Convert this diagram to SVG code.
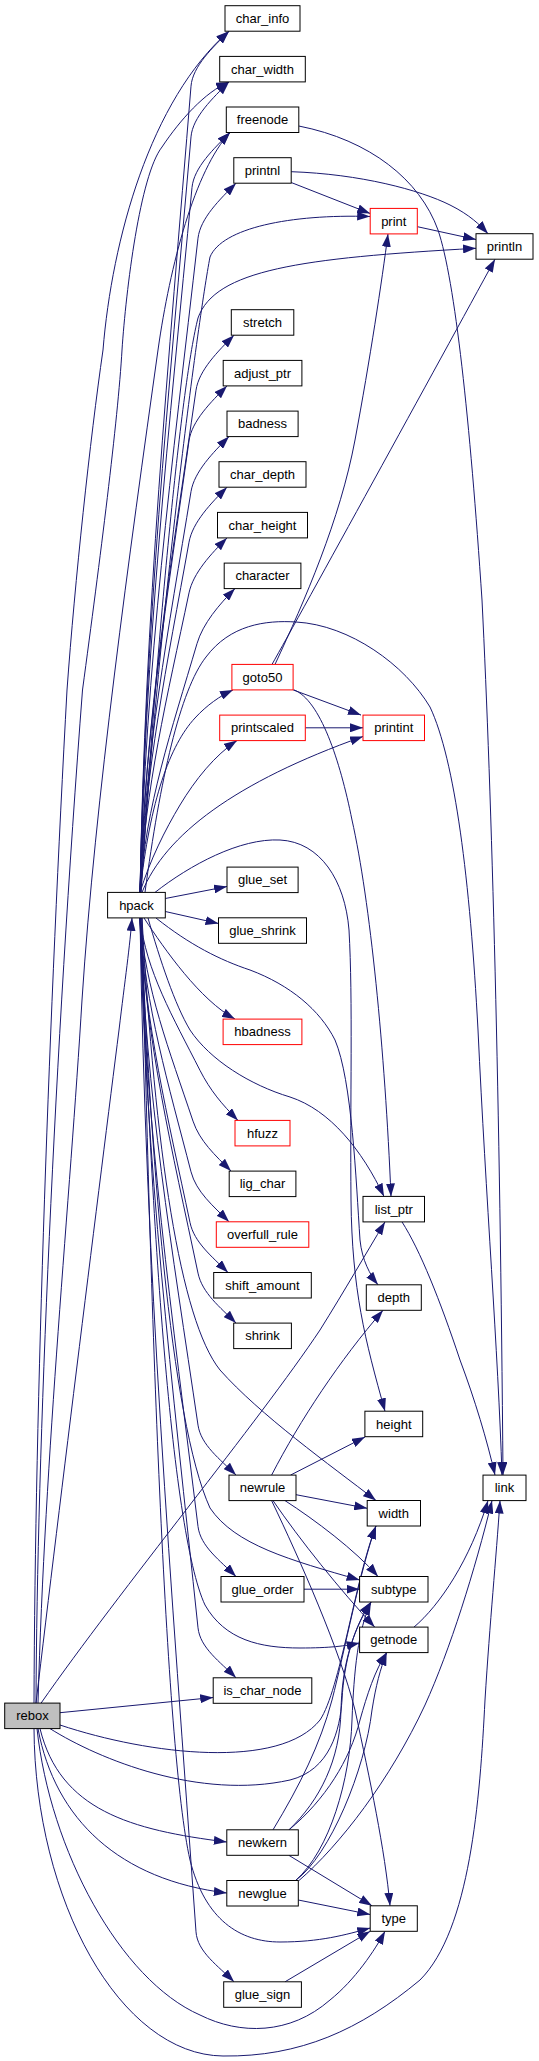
<svg xmlns="http://www.w3.org/2000/svg" width="539" height="2061" viewBox="0 0 539 2061">
<style>
.n rect{fill:#fff;stroke:#000;stroke-width:1}
.n.r rect{stroke:#f00}
.n.g rect{fill:#bfbfbf}
.n text{font-family:"Liberation Sans",Arial,sans-serif;font-size:13px;text-anchor:middle;fill:#000}
.e path{fill:none;stroke:#191970;stroke-width:1;marker-end:url(#a)}
</style>
<defs>
<marker id="a" markerWidth="13" markerHeight="9" refX="13" refY="4.5" orient="auto" markerUnits="userSpaceOnUse"><path d="M0,0 L13,4.5 L0,9 z" fill="#191970"/></marker>
</defs>
<rect width="539" height="2061" fill="#fff"/>
<g id="edges" class="e">
<path d="M140,892.4 C145.1,610.2 168.1,368.4 191,86.2 C192.6,66.2 213,47.2 229,31.2"/>
<path d="M140,892.4 C145.1,628 168.1,401.3 191,136.9 C192.7,116.9 213,97.9 229,81.9"/>
<path d="M140,892.4 C145.2,645.7 168.6,434.2 192,187.5 C193.9,167.5 214,148.5 230,132.5"/>
<path d="M140,892.4 C145.8,663.4 171.9,467.2 198,238.2 C200.3,218.2 220,199.2 236,183.2"/>
<path d="M140,892.4 C145.6,716.6 170.8,566 196,390.2 C198.9,370.2 218,351.2 234,335.2"/>
<path d="M140,892.4 C144.9,734.4 167,598.9 189,440.9 C191.8,420.9 211,401.9 227,385.9"/>
<path d="M140,892.4 C145.1,752.1 168.1,631.9 191,491.6 C194.3,471.6 213,452.6 229,436.6"/>
<path d="M140,892.4 C144.9,769.8 167,664.8 189,542.2 C192.6,522.2 211,503.2 227,487.2"/>
<path d="M140,892.4 C144.9,787.6 167,697.7 189,592.9 C193.2,572.9 211,553.9 227,537.9"/>
<path d="M140,892.4 C145.7,805.3 171.4,730.7 197,643.6 C202.9,623.6 219,604.6 235,588.6"/>
<path d="M140,892.4 C150,800 170,745 195,718 C207,705 220,696 233,689.9"/>
<path d="M140,892.4 C150,860 165,830 180,805 C195,780 215,755 237,740.6"/>
<path d="M142,892.4 C165,835 235,782 363,736.5"/>
<path d="M141,892.4 C158,620 198,320 210,257 C222,228 290,214 370.2,216.5"/>
<path d="M141,892.4 C158,620 182,380 198,318 C215,270 300,258 476,248.3"/>
<path d="M145,892.4 C160,780 180,690 206,657 C230,625 265,620 296,622 C350,625 405,665 430,707 C455,760 470,880 478,1030 C486,1200 498,1350 502,1475.1"/>
<path d="M155,892.4 C190,865 240,838 280,840 C320,842 345,880 349,930 C353,1000 350,1100 351,1200 C352,1290 365,1340 385,1411.2"/>
<path d="M165.3,898.5 L227,886.5"/>
<path d="M165.3,911.5 L218.5,923.5"/>
<path d="M144,918 C165,950 200,1000 235,1019.1"/>
<path d="M140,918 C146,971.3 173,1017.1 200,1070.4 C210.2,1090.4 222,1104.4 238,1120.4"/>
<path d="M140,918 C145.3,989.1 169.2,1050 193,1121.1 C199.7,1141.1 215,1155.1 231,1171.1"/>
<path d="M140,918 C145.1,1006.8 168.1,1083 191,1171.8 C196.2,1191.8 213,1205.8 229,1221.8"/>
<path d="M140,918 C145,1024.6 167.5,1115.9 190,1222.5 C194.2,1242.5 212,1256.5 228,1272.5"/>
<path d="M140,918 C145.8,1042.3 171.9,1148.8 198,1273.1 C202.2,1293.1 220,1307.1 236,1323.1"/>
<path d="M140,918 C145.8,1095.5 171.9,1247.6 198,1425.1 C201,1445.1 220,1459.1 236,1475.1"/>
<path d="M140,918 C145.8,1131 171.9,1313.5 198,1526.5 C200.5,1546.5 220,1560.5 236,1576.5"/>
<path d="M140,918 C145.8,1166.4 171.9,1379.4 198,1627.8 C200.1,1647.8 220,1661.8 236,1677.8"/>
<path d="M140,918 C145.6,1272.8 170.8,1577 196,1931.8 C197.4,1951.8 218,1965.8 234,1981.8"/>
<path d="M156,918 C190,945 220,960 250,970 C290,985 320,1010 335,1040 C352,1080 356,1180 360,1240 C362,1260 370,1275 378,1284.8"/>
<path d="M148,918 C160,960 175,1005 190,1030 C210,1060 250,1085 290,1097 C330,1110 362,1150 384,1196.5"/>
<path d="M142,918 C155,1150 180,1320 220,1370 C260,1415 330,1465 376,1500.5"/>
<path d="M141,918 C150,1150 170,1420 210,1508 C235,1545 290,1560 359.6,1580"/>
<path d="M141,918 C150,1200 170,1530 205,1605 C225,1640 260,1648 300,1648 C330,1648 345,1646 359.6,1643"/>
<path d="M142,918 C150,1300 165,1750 190,1860 C205,1920 240,1942 280,1942 C320,1942 345,1935 370.2,1928"/>
<path d="M298.8,126 C370,140 420,180 438,230 C455,280 470,420 482,600 C492,800 500,1100 503,1475.1"/>
<path d="M291.2,171.7 C360,174 420,190 450,205 C470,215 480,225 488,233.7"/>
<path d="M291.2,182.5 L370.2,213.5"/>
<path d="M417.4,226.7 L476,239.5"/>
<path d="M275,664.4 C305,600 340,520 355,440 C370,360 382,280 388,233.9"/>
<path d="M272,664.4 C300,615 440,360 495,259.2"/>
<path d="M293.1,689.9 L361,715.1"/>
<path d="M294,689.9 C320,700 340,760 352,820 C370,900 385,1050 391,1196.5"/>
<path d="M305.3,727.8 L363,727.8"/>
<path d="M402,1221.9 C420,1250 440,1300 460,1360 C475,1400 487,1440 495,1475.1"/>
<path d="M36,1703.2 C60,1500 100,1180 119,1030 C125,980 130,945 132,917.9"/>
<path d="M34,1703.2 C35,1400 50,1000 67,690 C75,580 90,440 103,350 C112,240 150,100 229,31.2"/>
<path d="M36,1703.2 C37,1450 55,1050 82.5,690 C100,560 118,420 122,350 C126,290 140,175 162,147 C180,120 205,92 229,81.9"/>
<path d="M38,1703.2 C45,1450 70,1200 82,1000 C95,800 130,550 158,350 C170,265 195,170 230,132.5"/>
<path d="M41,1703.2 C120,1590 260,1420 320,1330 C345,1290 365,1255 385,1221.9"/>
<path d="M60,1712.7 L213.2,1697.5"/>
<path d="M60,1725 C150,1755 280,1770 320,1720 C340,1690 355,1580 376,1526"/>
<path d="M50,1728.6 C100,1760 200,1800 290,1780 C330,1770 340,1730 342,1700 C344,1660 355,1625 371,1602"/>
<path d="M40,1728.6 C60,1810 130,1830 226.8,1842"/>
<path d="M38,1728.6 C55,1820 120,1880 226.8,1893"/>
<path d="M37,1728.6 C50,1850 120,1980 200,2015 C240,2035 290,2035 330,2000 C355,1980 375,1950 385,1931.3"/>
<path d="M34,1728.6 C35,1900 120,2055 223,2056 C300,2057 360,2030 420,1980 C470,1930 480,1800 485,1700 C490,1620 496,1560 500,1500.6"/>
<path d="M290.5,1475.1 L365,1437"/>
<path d="M296,1494.7 L367.2,1508.3"/>
<path d="M285,1500.6 C315,1520 355,1550 378,1576.5"/>
<path d="M273,1500.6 C300,1540 340,1590 374.7,1627.1"/>
<path d="M271.6,1500.6 C300,1560 340,1650 355,1710 C370,1780 385,1850 390,1905.8"/>
<path d="M271.6,1475.1 C300,1420 340,1360 383,1310.3"/>
<path d="M304,1589.2 L359.6,1589.2"/>
<path d="M414,1627.1 C440,1605 470,1560 488,1500.6"/>
<path d="M273,1829.8 C300,1785 320,1745 332,1700 C345,1650 360,1570 376,1526"/>
<path d="M289,1829.8 C320,1800 340,1760 341,1710 C342,1670 350,1635 371,1602"/>
<path d="M289,1829.8 C325,1800 350,1760 360,1720 C367,1695 375,1670 386.7,1652.6"/>
<path d="M288.8,1855.3 L372,1905.8"/>
<path d="M295.6,1880.5 C330,1850 350,1780 352,1720 C354,1670 358,1630 371,1602"/>
<path d="M295.6,1880.5 C330,1855 365,1770 372,1710 C376,1685 380,1670 386.7,1652.6"/>
<path d="M299,1880.5 C340,1845 390,1780 425,1705 C450,1650 475,1570 492,1500.6"/>
<path d="M298.3,1900 L370.2,1914.5"/>
<path d="M285,1981.8 L370.2,1931.3"/>
</g>
<g id="char_info" class="n"><rect x="225" y="5.7" width="75" height="25.5"/><text x="262.5" y="23">char_info</text></g>
<g id="char_width" class="n"><rect x="219.7" y="56.4" width="85.6" height="25.5"/><text x="262.5" y="73.7">char_width</text></g>
<g id="freenode" class="n"><rect x="226.3" y="107" width="72.5" height="25.5"/><text x="262.5" y="124.3">freenode</text></g>
<g id="printnl" class="n"><rect x="233.8" y="157.7" width="57.4" height="25.5"/><text x="262.5" y="175">printnl</text></g>
<g id="print" class="n r"><rect x="370.2" y="208.4" width="47.1" height="25.5"/><text x="393.8" y="225.7">print</text></g>
<g id="println" class="n"><rect x="476" y="233.7" width="57" height="25.5"/><text x="504.5" y="251">println</text></g>
<g id="stretch" class="n"><rect x="231.3" y="309.7" width="62.5" height="25.5"/><text x="262.5" y="327">stretch</text></g>
<g id="adjust_ptr" class="n"><rect x="223.2" y="360.4" width="78.7" height="25.5"/><text x="262.5" y="377.7">adjust_ptr</text></g>
<g id="badness" class="n"><rect x="227" y="411.1" width="71.1" height="25.5"/><text x="262.5" y="428.4">badness</text></g>
<g id="char_depth" class="n"><rect x="219" y="461.7" width="87" height="25.5"/><text x="262.5" y="479">char_depth</text></g>
<g id="char_height" class="n"><rect x="217.5" y="512.4" width="90" height="25.5"/><text x="262.5" y="529.7">char_height</text></g>
<g id="character" class="n"><rect x="224.2" y="563.1" width="76.7" height="25.5"/><text x="262.5" y="580.4">character</text></g>
<g id="goto50" class="n r"><rect x="231.9" y="664.4" width="61.2" height="25.5"/><text x="262.5" y="681.7">goto50</text></g>
<g id="printscaled" class="n r"><rect x="219.7" y="715.1" width="85.6" height="25.5"/><text x="262.5" y="732.4">printscaled</text></g>
<g id="printint" class="n r"><rect x="363" y="715.1" width="61.5" height="25.5"/><text x="393.8" y="732.4">printint</text></g>
<g id="glue_set" class="n"><rect x="227" y="867.1" width="71.1" height="25.5"/><text x="262.5" y="884.4">glue_set</text></g>
<g id="hpack" class="n"><rect x="107.6" y="892.4" width="57.7" height="25.5"/><text x="136.5" y="909.7">hpack</text></g>
<g id="glue_shrink" class="n"><rect x="218.5" y="917.8" width="88" height="25.5"/><text x="262.5" y="935.1">glue_shrink</text></g>
<g id="hbadness" class="n r"><rect x="223.1" y="1019.1" width="78.8" height="25.5"/><text x="262.5" y="1036.4">hbadness</text></g>
<g id="hfuzz" class="n r"><rect x="235" y="1120.4" width="55" height="25.5"/><text x="262.5" y="1137.7">hfuzz</text></g>
<g id="lig_char" class="n"><rect x="229.2" y="1171.1" width="66.7" height="25.5"/><text x="262.5" y="1188.4">lig_char</text></g>
<g id="list_ptr" class="n"><rect x="363" y="1196.4" width="61.5" height="25.5"/><text x="393.8" y="1213.7">list_ptr</text></g>
<g id="overfull_rule" class="n r"><rect x="216.3" y="1221.8" width="92.5" height="25.5"/><text x="262.5" y="1239.1">overfull_rule</text></g>
<g id="shift_amount" class="n"><rect x="213.7" y="1272.5" width="97.6" height="25.5"/><text x="262.5" y="1289.8">shift_amount</text></g>
<g id="depth" class="n"><rect x="366.3" y="1284.8" width="55" height="25.5"/><text x="393.8" y="1302.1">depth</text></g>
<g id="shrink" class="n"><rect x="233.7" y="1323.1" width="57.7" height="25.5"/><text x="262.5" y="1340.4">shrink</text></g>
<g id="height" class="n"><rect x="364.9" y="1411.2" width="57.8" height="25.5"/><text x="393.8" y="1428.5">height</text></g>
<g id="newrule" class="n"><rect x="229" y="1475.1" width="67" height="25.5"/><text x="262.5" y="1492.4">newrule</text></g>
<g id="link" class="n"><rect x="483" y="1475.1" width="43" height="25.5"/><text x="504.5" y="1492.4">link</text></g>
<g id="width" class="n"><rect x="367.2" y="1500.5" width="53.3" height="25.5"/><text x="393.8" y="1517.8">width</text></g>
<g id="glue_order" class="n"><rect x="221" y="1576.5" width="83" height="25.5"/><text x="262.5" y="1593.8">glue_order</text></g>
<g id="subtype" class="n"><rect x="359.6" y="1576.5" width="68.4" height="25.5"/><text x="393.8" y="1593.8">subtype</text></g>
<g id="getnode" class="n"><rect x="359.6" y="1627.1" width="68.4" height="25.5"/><text x="393.8" y="1644.4">getnode</text></g>
<g id="is_char_node" class="n"><rect x="213.2" y="1677.8" width="98.6" height="25.5"/><text x="262.5" y="1695.1">is_char_node</text></g>
<g id="rebox" class="n g"><rect x="4.7" y="1703.1" width="55.3" height="25.5"/><text x="32.4" y="1720.4">rebox</text></g>
<g id="newkern" class="n"><rect x="226.8" y="1829.8" width="71.5" height="25.5"/><text x="262.5" y="1847.1">newkern</text></g>
<g id="newglue" class="n"><rect x="226.8" y="1880.5" width="71.5" height="25.5"/><text x="262.5" y="1897.8">newglue</text></g>
<g id="type" class="n"><rect x="370.2" y="1905.8" width="47.1" height="25.5"/><text x="393.8" y="1923.1">type</text></g>
<g id="glue_sign" class="n"><rect x="223.7" y="1981.8" width="77.7" height="25.5"/><text x="262.5" y="1999.1">glue_sign</text></g>
</svg>
